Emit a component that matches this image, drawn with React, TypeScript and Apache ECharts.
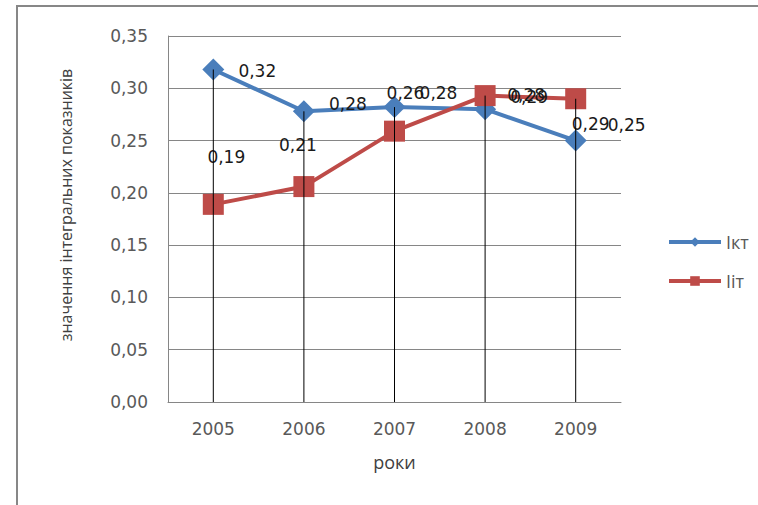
import React, { useEffect, useRef } from "react";
import * as echarts from "echarts";

const years = ["2005", "2006", "2007", "2008", "2009"];
const ikt = [0.318, 0.278, 0.282, 0.28, 0.25];
const iit = [0.189, 0.206, 0.259, 0.293, 0.29];
const yTicks = [0, 0.05, 0.1, 0.15, 0.2, 0.25, 0.3, 0.35];
const iktLabelOffsets = [[44, 2], [44, -7], [44, -14], [41, -14], [51, -16]];
const iitLabelOffsets = [[13, -47], [-6, -42], [11, -38], [44, 1], [15, 25]];

const FONT = "Open Sans";
const NUMFONT = "DejaVu Sans";
const fmt = (v: number) => v.toFixed(2).replace(".", ",");

export default function App() {
  const ref = useRef<HTMLDivElement>(null);
  useEffect(() => {
    if (!ref.current) return;
    const chart = echarts.init(ref.current, undefined, { renderer: "svg" });
    const labelBase = {
      show: true,
      position: "inside",
      align: "center",
      verticalAlign: "middle",
      color: "#1a1a1a",
      fontFamily: NUMFONT,
      fontSize: 17,
      formatter: (p: any) => fmt(p.value),
    };
    chart.setOption({
      animation: false,
      backgroundColor: "#ffffff",
      textStyle: { fontFamily: FONT },
      grid: { left: 168, right: 137, top: 36, bottom: 103 },
      legend: {
        data: ["Ікт", "Ііт"],
        orient: "vertical",
        left: 662,
        top: 227,
        itemWidth: 52,
        itemHeight: 12,
        itemGap: 19,
        lineStyle: { width: 4 },
        textStyle: { color: "#595959", fontFamily: FONT, fontSize: 18, lineHeight: 20 },
      },
      graphic: [
        {
          type: "rect",
          shape: { x: 17, y: 6, width: 800, height: 600 },
          style: { fill: "none", stroke: "#878787", lineWidth: 2 },
          silent: true,
        },
        {
          type: "text",
          x: 66,
          y: 205,
          rotation: Math.PI / 2,
          style: {
            text: "значення інтегральних показників",
            fill: "#404040",
            fontFamily: FONT,
            fontSize: 16,
            align: "center",
            verticalAlign: "middle",
          },
        },
      ],
      xAxis: {
        type: "category",
        data: years,
        boundaryGap: true,
        name: "роки",
        nameLocation: "middle",
        nameGap: 51,
        nameTextStyle: { color: "#404040", fontFamily: FONT, fontSize: 18 },
        axisLine: { show: true, lineStyle: { color: "#868686", width: 1 } },
        axisTick: { show: false },
        axisLabel: { color: "#595959", fontFamily: NUMFONT, fontSize: 17, margin: 18 },
        splitLine: { show: false },
      },
      yAxis: {
        type: "value",
        min: yTicks[0],
        max: yTicks[yTicks.length - 1],
        interval: 0.05,
        axisLine: { show: true, lineStyle: { color: "#868686", width: 1 } },
        axisTick: { show: false },
        axisLabel: {
          color: "#595959",
          fontFamily: NUMFONT,
          fontSize: 17,
          margin: 20,
          formatter: (v: number) => fmt(v),
        },
        splitLine: { show: true, lineStyle: { color: "#868686", width: 1 } },
      },
      series: [
        {
          name: "Ікт",
          type: "line",
          data: ikt.map((v, i) => ({ value: v, label: { offset: iktLabelOffsets[i] } })),
          symbol: "diamond",
          symbolSize: 22,
          lineStyle: { color: "#4a7ebb", width: 4 },
          itemStyle: { color: "#4a7ebb" },
          label: labelBase,
          z: 2,
        },
        {
          name: "Ііт",
          type: "line",
          data: iit.map((v, i) => ({ value: v, label: { offset: iitLabelOffsets[i] } })),
          symbol: "rect",
          symbolSize: 21,
          lineStyle: { color: "#be4b48", width: 4 },
          itemStyle: { color: "#be4b48" },
          label: labelBase,
          z: 2,
        },
        {
          name: "drop",
          type: "custom",
          z: 3,
          silent: true,
          data: years.map((_, i) => [i, Math.max(ikt[i], iit[i])]),
          encode: { x: 0, y: 1 },
          renderItem: (_params: any, api: any) => {
            const top = api.coord([api.value(0), api.value(1)]);
            const bottom = api.coord([api.value(0), 0]);
            return {
              type: "line",
              shape: { x1: top[0], y1: top[1], x2: bottom[0], y2: bottom[1] },
              style: { stroke: "#000000", lineWidth: 1 },
            };
          },
        },
      ],
    });
    return () => chart.dispose();
  }, []);
  return (
    <div
      ref={ref}
      style={{ position: "fixed", left: 0, top: 0, width: 758, height: 505, background: "#fff" }}
    />
  );
}
